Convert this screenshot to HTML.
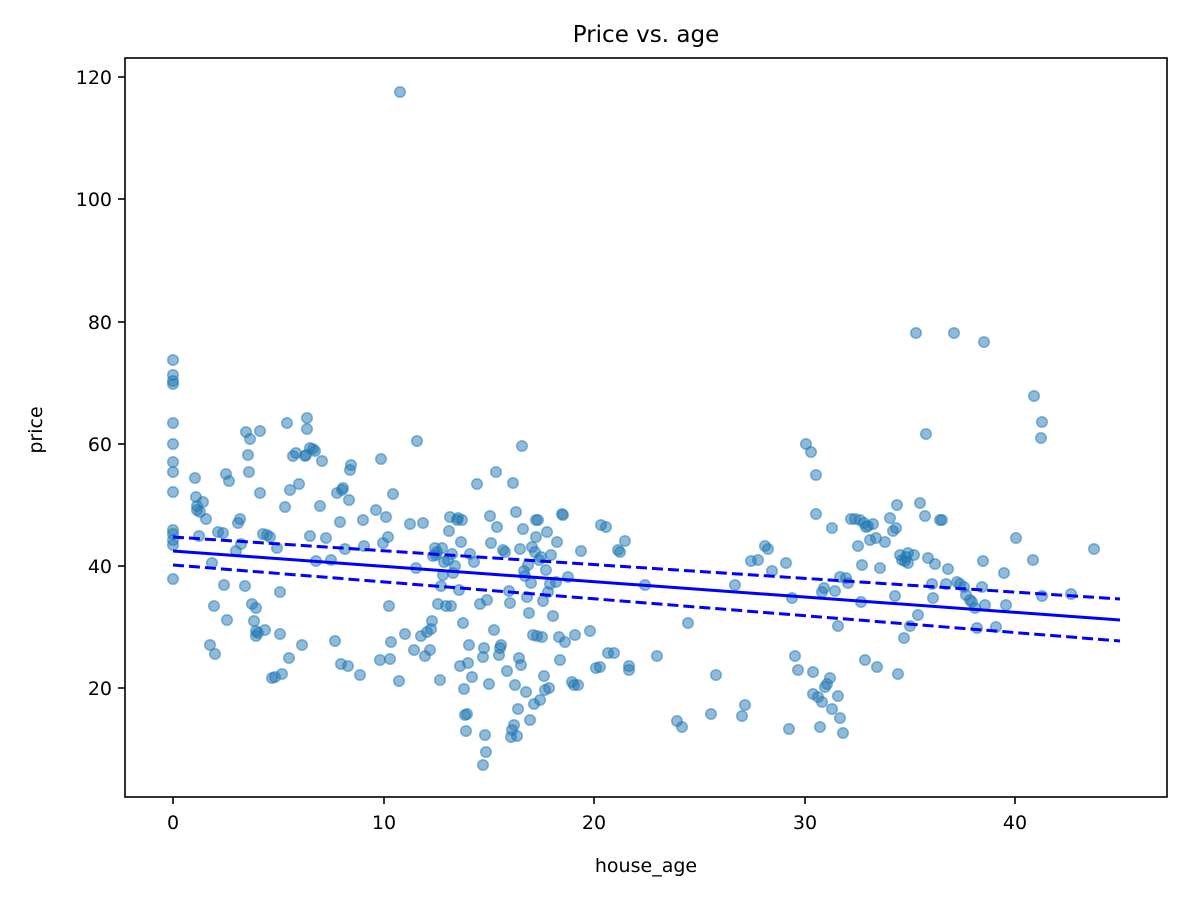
<!DOCTYPE html>
<html><head><meta charset="utf-8"><style>html,body{margin:0;padding:0;background:#fff}svg{display:block}</style></head>
<body>
<svg id="s" width="1186" height="898" xmlns="http://www.w3.org/2000/svg" font-family="DejaVu Sans, Liberation Sans, sans-serif">
<rect width="1186" height="898" fill="#fff"/>
<g id="pts" fill="#1f77b4" fill-opacity="0.5" stroke="#1f77b4" stroke-opacity="0.5" stroke-width="1.5"></g>
<line x1="173" y1="551" x2="1120" y2="620" stroke="#0000ff" stroke-width="3"/>
<line x1="173" y1="537" x2="1120" y2="599" stroke="#0000ff" stroke-width="3" stroke-dasharray="11,5"/>
<line x1="173" y1="565" x2="1120" y2="641" stroke="#0000ff" stroke-width="3" stroke-dasharray="11,5"/>
<rect x="125" y="58" width="1042" height="739" fill="none" stroke="#000" stroke-width="1.6"/>
<g stroke="#000" stroke-width="1.6">
<line x1="173" y1="797" x2="173" y2="804"/><line x1="384" y1="797" x2="384" y2="804"/><line x1="594" y1="797" x2="594" y2="804"/><line x1="805" y1="797" x2="805" y2="804"/><line x1="1015" y1="797" x2="1015" y2="804"/>
<line x1="118" y1="77" x2="125" y2="77"/><line x1="118" y1="199" x2="125" y2="199"/><line x1="118" y1="322" x2="125" y2="322"/><line x1="118" y1="444" x2="125" y2="444"/><line x1="118" y1="566" x2="125" y2="566"/><line x1="118" y1="688" x2="125" y2="688"/>
</g>
<g font-size="19" fill="#000" text-anchor="middle">
<text x="173" y="829">0</text><text x="384" y="829">10</text><text x="594" y="829">20</text><text x="805" y="829">30</text><text x="1015" y="829">40</text>
</g>
<g font-size="19" fill="#000" text-anchor="end">
<text x="112" y="84">120</text><text x="112" y="206">100</text><text x="112" y="329">80</text><text x="112" y="451">60</text><text x="112" y="573">40</text><text x="112" y="695">20</text>
</g>
<text x="646" y="872" font-size="19" text-anchor="middle">house_age</text>
<text transform="translate(42,430) rotate(-90)" font-size="19" text-anchor="middle">price</text>
<text x="646" y="42" font-size="23" text-anchor="middle">Price vs. age</text>
</svg>
<script>
var d="173,360 173,375 173,381 173,384 173,423 173,444 173,462 173,472 173,492 173,530 173,534 173,540 173,545 173,579 195,478 196,497 197,506 199,536 200,512 197,510 203,502 206,519 210,645 212,563 214,606 215,654 218,532 223,533 224,585 227,620 226,474 229,481 236,551 238,523 240,519 241,544 245,586 246,432 248,455 249,472 250,439 252,604 254,621 256,631 256,608 256,636 258,633 260,493 260,431 263,534 265,630 267,535 270,537 272,678 275,677 277,548 280,634 280,592 282,674 285,507 287,423 289,658 290,490 293,456 296,453 299,484 302,645 305,456 306,455 307,429 307,418 310,536 310,448 313,449 315,451 316,561 320,506 322,461 326,538 331,560 335,641 337,493 340,522 341,664 342,490 343,488 345,549 348,666 349,500 350,470 351,465 360,675 363,520 364,546 376,510 380,660 381,459 383,543 386,517 388,537 389,606 390,659 391,642 393,494 399,681 405,634 410,524 414,650 416,568 417,441 421,636 423,523 425,656 427,632 430,650 431,629 432,621 436,555 433,556 435,548 437,552 438,604 440,680 441,586 442,548 443,575 444,562 446,606 448,560 449,531 450,517 451,606 452,554 453,573 455,566 457,520 458,518 459,590 460,666 461,542 462,520 463,623 464,689 465,715 466,731 467,714 468,663 469,645 470,554 472,677 474,562 477,484 480,604 483,657 484,648 485,735 486,752 487,600 489,684 490,516 491,543 494,630 496,472 497,527 499,655 500,648 501,645 503,550 505,552 507,671 509,591 510,603 511,737 512,730 513,483 514,725 515,685 516,512 517,736 518,709 519,658 520,549 521,665 522,446 523,529 524,571 525,576 526,692 527,597 528,565 529,613 530,720 531,583 532,547 533,635 534,704 535,552 536,537 536,520 537,636 538,520 539,560 540,700 541,557 542,637 543,601 544,676 545,690 546,570 547,532 548,592 549,688 550,584 551,555 553,616 556,582 557,542 559,637 560,660 562,514 563,515 565,642 568,577 572,682 574,685 575,635 578,685 581,551 590,631 596,668 600,667 601,525 606,527 608,653 614,653 618,550 620,552 625,541 629,666 629,670 645,585 657,656 677,721 682,727 688,623 711,714 716,675 735,585 742,716 745,705 751,561 758,560 765,546 768,549 772,571 786,563 789,729 792,598 795,656 798,670 806,444 811,452 816,475 813,672 813,694 816,514 818,697 820,727 822,702 825,687 827,684 830,678 832,709 838,696 840,718 843,733 822,592 824,588 832,528 835,591 838,626 840,577 846,578 848,583 851,519 855,519 858,546 860,520 861,602 862,565 864,523 865,660 866,527 868,526 870,540 873,524 876,538 877,667 880,568 885,542 890,518 893,531 895,596 896,528 897,505 898,674 900,555 902,560 904,638 905,561 906,557 908,563 908,553 910,626 914,555 916,333 918,615 920,503 925,516 926,434 928,558 932,584 933,598 935,564 940,520 942,520 946,584 948,569 954,333 957,582 960,584 964,587 966,595 970,600 972,602 975,608 977,628 982,587 984,342 983,561 985,605 996,627 1004,573 1006,605 1016,538 1034,396 1033,560 1041,438 1042,422 1042,596 1071,594 1094,549 400,92 483,765";
var g=document.getElementById("pts"),h="";
d.split(" ").forEach(function(p){var a=p.split(",");h+='<circle cx="'+a[0]+'" cy="'+a[1]+'" r="5.3"/>';});
g.innerHTML=h;
</script>
</body></html>
